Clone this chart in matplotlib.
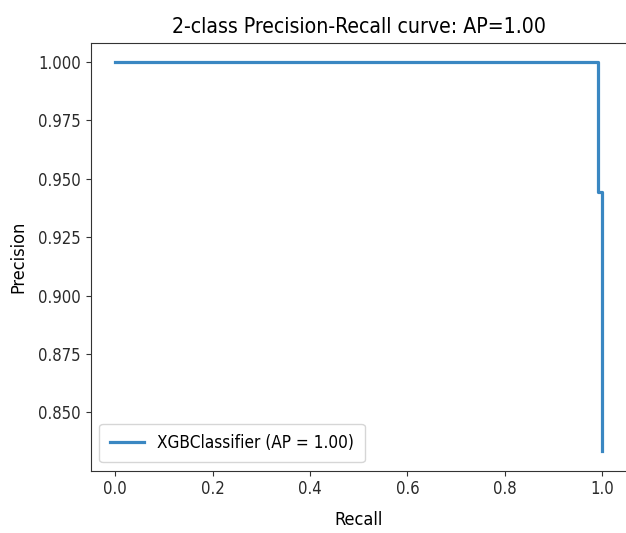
import matplotlib
matplotlib.use("Agg")
import matplotlib.pyplot as plt

recall = [1.0, 1.0, 0.992, 0.0]
precision = [0.8333, 0.9444, 1.0, 1.0]
label = "XGBClassifier (AP = 1.00)"
title = "2-class Precision-Recall curve: AP=1.00"

plt.rcParams["font.family"] = ["DejaVu Sans"]
plt.rcParams["font.stretch"] = "condensed"

fig = plt.figure(figsize=(6.26, 5.33), dpi=100)
ax = fig.add_axes([0.145, 0.117, 0.856, 0.803])
ax.plot(recall, precision, drawstyle="steps-post", color="#3a87c2", lw=2.3, label=label)
ax.set_xlabel("Recall", fontsize=13, labelpad=9)
ax.set_ylabel("Precision", fontsize=13, labelpad=8)
ax.set_title(title, fontsize=15.2, pad=7)
ax.set_yticks([0.85, 0.875, 0.9, 0.925, 0.95, 0.975, 1.0])
ax.tick_params(labelsize=12, colors="#333333", labelcolor="#2a2a2a")
for s in ax.spines.values():
    s.set_color("#333333")
ax.spines["right"].set_visible(False)
ax.legend(loc="lower left", fontsize=12.3, borderpad=0.6, handlelength=2.0)
fig.savefig("out.png", dpi=100)
